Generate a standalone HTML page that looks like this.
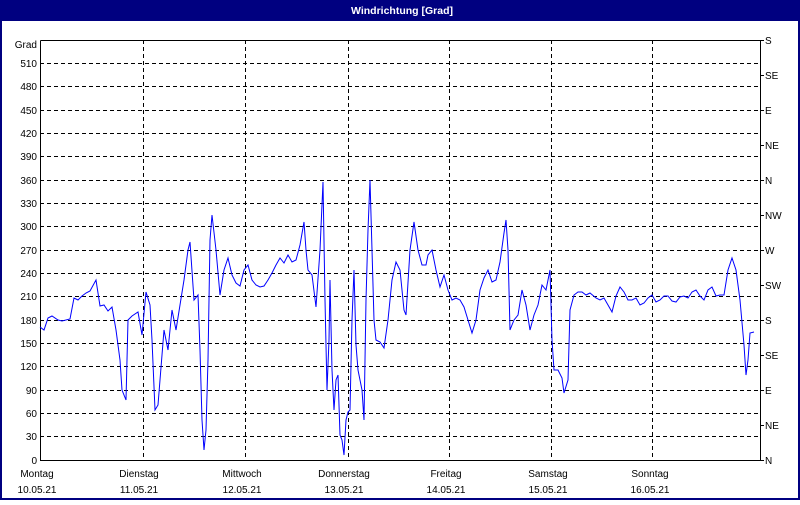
<!DOCTYPE html><html><head><style>
body{margin:0;width:800px;height:500px;overflow:hidden;background:#fff;font-family:"Liberation Sans",sans-serif}
</style></head><body>
<svg width="800" height="500" xmlns="http://www.w3.org/2000/svg" font-family="Liberation Sans, sans-serif" font-size="10">
<rect x="0" y="0" width="800" height="500" fill="#000080"/>
<rect x="2" y="21" width="796" height="477" fill="#fff"/>
<text x="402" y="14" fill="#fff" font-weight="bold" text-anchor="middle" font-size="10.5">Windrichtung [Grad]</text>
<g stroke="#000" stroke-dasharray="4,3" stroke-width="1">
<line x1="40" x2="760" y1="63.5" y2="63.5"/><line x1="40" x2="760" y1="86.5" y2="86.5"/><line x1="40" x2="760" y1="110.5" y2="110.5"/><line x1="40" x2="760" y1="133.5" y2="133.5"/><line x1="40" x2="760" y1="156.5" y2="156.5"/><line x1="40" x2="760" y1="180.5" y2="180.5"/><line x1="40" x2="760" y1="203.5" y2="203.5"/><line x1="40" x2="760" y1="226.5" y2="226.5"/><line x1="40" x2="760" y1="250.5" y2="250.5"/><line x1="40" x2="760" y1="273.5" y2="273.5"/><line x1="40" x2="760" y1="296.5" y2="296.5"/><line x1="40" x2="760" y1="320.5" y2="320.5"/><line x1="40" x2="760" y1="343.5" y2="343.5"/><line x1="40" x2="760" y1="366.5" y2="366.5"/><line x1="40" x2="760" y1="390.5" y2="390.5"/><line x1="40" x2="760" y1="413.5" y2="413.5"/><line x1="40" x2="760" y1="436.5" y2="436.5"/>
<line x1="143.5" x2="143.5" y1="40" y2="460"/><line x1="245.5" x2="245.5" y1="40" y2="460"/><line x1="348.5" x2="348.5" y1="40" y2="460"/><line x1="449.5" x2="449.5" y1="40" y2="460"/><line x1="551.5" x2="551.5" y1="40" y2="460"/><line x1="652.5" x2="652.5" y1="40" y2="460"/>
</g>
<g stroke="#000" stroke-width="1" fill="none">
<polyline points="40.5,40.5 760.5,40.5 760.5,460.5 40.5,460.5 40.5,40.5"/>
<line x1="760" x2="764" y1="40.5" y2="40.5"/><line x1="760" x2="764" y1="75.5" y2="75.5"/><line x1="760" x2="764" y1="110.5" y2="110.5"/><line x1="760" x2="764" y1="145.5" y2="145.5"/><line x1="760" x2="764" y1="180.5" y2="180.5"/><line x1="760" x2="764" y1="215.5" y2="215.5"/><line x1="760" x2="764" y1="250.5" y2="250.5"/><line x1="760" x2="764" y1="285.5" y2="285.5"/><line x1="760" x2="764" y1="320.5" y2="320.5"/><line x1="760" x2="764" y1="355.5" y2="355.5"/><line x1="760" x2="764" y1="390.5" y2="390.5"/><line x1="760" x2="764" y1="425.5" y2="425.5"/><line x1="760" x2="764" y1="460.5" y2="460.5"/>
</g>
<g text-anchor="end" fill="#000">
<text x="37" y="48">Grad</text><text x="37" y="67">510</text><text x="37" y="90">480</text><text x="37" y="114">450</text><text x="37" y="137">420</text><text x="37" y="160">390</text><text x="37" y="184">360</text><text x="37" y="207">330</text><text x="37" y="230">300</text><text x="37" y="254">270</text><text x="37" y="277">240</text><text x="37" y="300">210</text><text x="37" y="324">180</text><text x="37" y="347">150</text><text x="37" y="370">120</text><text x="37" y="394">90</text><text x="37" y="417">60</text><text x="37" y="440">30</text><text x="37" y="464">0</text>
</g>
<g fill="#000">
<text x="765" y="44">S</text><text x="765" y="79">SE</text><text x="765" y="114">E</text><text x="765" y="149">NE</text><text x="765" y="184">N</text><text x="765" y="219">NW</text><text x="765" y="254">W</text><text x="765" y="289">SW</text><text x="765" y="324">S</text><text x="765" y="359">SE</text><text x="765" y="394">E</text><text x="765" y="429">NE</text><text x="765" y="464">N</text>
</g>
<g text-anchor="middle" fill="#000">
<text x="37" y="477">Montag</text><text x="37" y="493">10.05.21</text>
<text x="139" y="477">Dienstag</text><text x="139" y="493">11.05.21</text>
<text x="242" y="477">Mittwoch</text><text x="242" y="493">12.05.21</text>
<text x="344" y="477">Donnerstag</text><text x="344" y="493">13.05.21</text>
<text x="446" y="477">Freitag</text><text x="446" y="493">14.05.21</text>
<text x="548" y="477">Samstag</text><text x="548" y="493">15.05.21</text>
<text x="650" y="477">Sonntag</text><text x="650" y="493">16.05.21</text>
</g>
<polyline fill="none" stroke="#0000ff" stroke-width="1" points="40,327 44,330 48,318 52,316 58,320 62,321 70,319 74,298 78,300 82,296 86,293 90,291 96,280 100,306 104,305 108,311 112,307 116,330 120,360 122,390 126,400 128,320 132,316 138,312 142,335 146,292 150,305 152,340 155,410 158,405 160,380 164,330 168,350 172,310 176,330 180,305 184,280 188,250 190,242 194,300 198,295 200,350 202,420 204,450 206,430 208,360 210,240 212,215 216,250 220,295 224,270 228,258 232,275 236,283 240,286 244,270 248,265 252,280 256,285 260,287 264,286 268,280 272,273 276,265 280,258 284,263 288,255 292,262 296,260 300,245 304,222 306,250 308,270 312,275 316,307 320,250 323,182 325,300 327,390 329,340 330,280 332,370 334,410 336,380 338,375 340,435 342,440 344,455 346,420 348,412 350,410 352,320 354,270 356,345 358,370 362,390 364,420 366,300 368,230 370,180 372,250 374,320 376,340 380,342 384,348 388,320 392,280 396,262 400,270 404,310 406,315 410,250 414,222 418,250 422,265 426,265 428,255 432,250 436,270 440,287 444,275 448,290 452,300 456,298 460,300 464,307 468,320 472,333 476,320 480,290 484,278 488,270 492,282 496,280 500,262 504,233 506,220 508,250 510,330 514,320 518,315 522,290 526,305 530,330 534,315 538,305 542,285 546,290 550,270 552,340 554,370 558,370 562,378 564,393 568,380 570,310 574,295 578,292 582,292 586,295 590,293 596,298 600,300 604,298 608,305 612,312 616,296 620,287 624,292 628,300 632,300 636,298 640,305 644,303 648,298 652,295 656,302 660,300 664,296 668,296 672,301 676,302 680,297 684,296 688,298 692,292 696,290 700,296 704,300 708,290 712,287 716,296 720,295 724,295 728,270 732,258 736,270 740,300 744,345 746,375 748,360 750,333 754,332"/>
</svg>
</body></html>
